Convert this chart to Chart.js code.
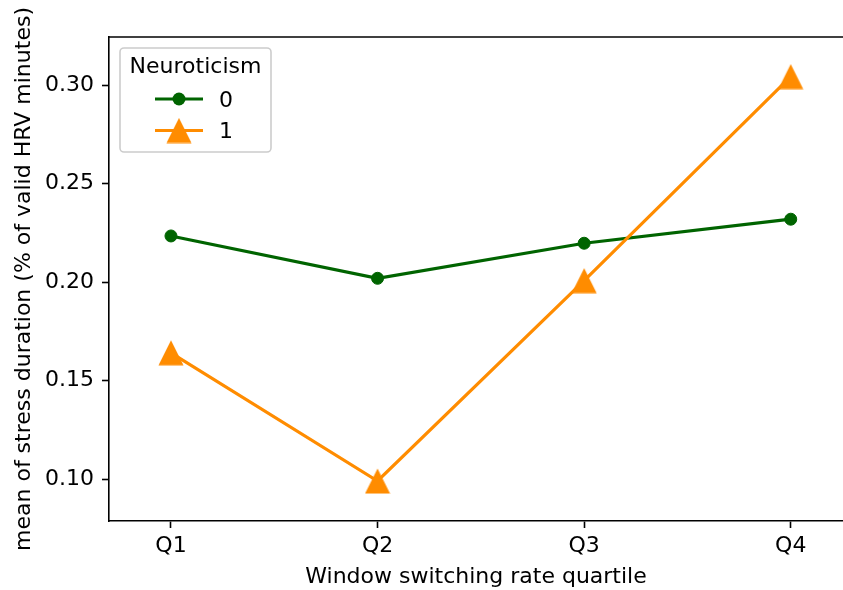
<!DOCTYPE html>
<html>
<head>
<meta charset="utf-8">
<script src="https://cdn.jsdelivr.net/npm/chart.js@4.4.0/dist/chart.umd.min.js"></script>
<style>
  html, body { margin: 0; padding: 0; background: #fff; overflow: hidden; }
</style>
</head>
<body>
<canvas id="myChart" width="843" height="590"></canvas>
<script>
const quartiles = ['Q1', 'Q2', 'Q3', 'Q4'];
const neuroLow = [0.2235, 0.202, 0.2198, 0.232];
const neuroHigh = [0.1642, 0.0991, 0.2008, 0.3044];
const yTicks = [0.10, 0.15, 0.20, 0.25, 0.30];
const seriesNames = ['0', '1'];

const GREEN = '#006400';
const ORANGE = '#ff8c00';

function toPoints(vals) {
  return vals.map((v, i) => ({x: i, y: v}));
}

// matplotlib-like '^' marker (centred at mid height)
function makeTriangle(size, color) {
  const c = document.createElement('canvas');
  c.width = size;
  c.height = size;
  const g = c.getContext('2d');
  g.fillStyle = color;
  g.beginPath();
  g.moveTo(size / 2, 0.5);
  g.lineTo(size - 0.5, size - 0.5);
  g.lineTo(0.5, size - 0.5);
  g.closePath();
  g.fill();
  return c;
}
const triangle = makeTriangle(26, ORANGE);

// legend drawn like matplotlib's boxed legend with a title
const legendBox = {
  id: 'legendBox',
  afterDraw(chart) {
    const ctx = chart.ctx;
    const x0 = 120, y0 = 48, w = 151, h = 104;
    ctx.save();
    ctx.beginPath();
    ctx.roundRect(x0, y0, w, h, 4);
    ctx.fillStyle = 'rgba(255,255,255,0.8)';
    ctx.fill();
    ctx.strokeStyle = '#cccccc';
    ctx.lineWidth = 1.6;
    ctx.stroke();

    ctx.fillStyle = '#000';
    ctx.font = '22px "DejaVu Sans"';
    ctx.textAlign = 'center';
    ctx.textBaseline = 'alphabetic';
    ctx.fillText('Neuroticism', x0 + w / 2, 73);

    const rows = [99, 130.5];
    chart.data.datasets.forEach((ds, i) => {
      const y = rows[i];
      ctx.strokeStyle = ds.borderColor;
      ctx.lineWidth = 3.2;
      ctx.beginPath();
      ctx.moveTo(155, y);
      ctx.lineTo(203, y);
      ctx.stroke();
      if (ds.pointStyle === 'circle') {
        ctx.fillStyle = ds.pointBackgroundColor;
        ctx.beginPath();
        ctx.arc(179, y, 6.5, 0, Math.PI * 2);
        ctx.fill();
      } else {
        ctx.drawImage(ds.pointStyle, 179 - 13, y - 13);
      }
      ctx.fillStyle = '#000';
      ctx.textAlign = 'left';
      ctx.fillText(ds.label, 219, y + 7.5);
    });

    // top spine (the right spine lies just outside the picture)
    const a = chart.chartArea;
    ctx.strokeStyle = '#000';
    ctx.lineWidth = 1.6;
    ctx.beginPath();
    ctx.moveTo(a.left - 0.8, a.top);
    ctx.lineTo(chart.width, a.top);
    ctx.stroke();
    ctx.restore();
  }
};

Chart.defaults.font.family = 'DejaVu Sans';
Chart.defaults.font.size = 22;
Chart.defaults.color = '#000';

const data = {
  datasets: [{
    label: seriesNames[0],
    data: toPoints(neuroLow),
    borderColor: GREEN,
    backgroundColor: GREEN,
    pointBackgroundColor: GREEN,
    pointBorderColor: GREEN,
    pointStyle: 'circle',
    pointRadius: 6,
    pointBorderWidth: 1,
    borderWidth: 3.2,
    order: 1
  }, {
    label: seriesNames[1],
    data: toPoints(neuroHigh),
    borderColor: ORANGE,
    backgroundColor: ORANGE,
    pointBackgroundColor: ORANGE,
    pointStyle: triangle,
    pointRadius: 13,
    borderWidth: 3.2,
    order: 0
  }]
};

const config = {
  type: 'line',
  data: data,
  options: {
    responsive: false,
    animation: false,
    devicePixelRatio: 1,
    layout: { autoPadding: false, padding: { left: 0, top: 37, right: 0, bottom: 0 } },
    plugins: {
      legend: { display: false },
      tooltip: { enabled: false }
    },
    scales: {
      x: {
        type: 'linear',
        min: -0.3,
        max: 3.253,
        afterBuildTicks: (s) => { s.ticks = quartiles.map((q, i) => ({value: i})); },
        afterFit: (s) => { s.height = 69; s.paddingLeft = 0; s.paddingRight = 0; },
        ticks: {
          padding: 5,
          callback: (v) => quartiles[v]
        },
        grid: {
          drawOnChartArea: false,
          drawTicks: true,
          tickLength: 7,
          tickWidth: 1.6,
          tickColor: '#000'
        },
        border: { display: true, color: '#000', width: 1.6 },
        title: {
          display: true,
          text: 'Window switching rate quartile',
          padding: { top: 0, bottom: 0 }
        }
      },
      y: {
        min: 0.0788,
        max: 0.3245,
        afterBuildTicks: (s) => { s.ticks = yTicks.map(v => ({value: v})); },
        afterFit: (s) => { s.width = 109; s.paddingTop = 0; s.paddingBottom = 0; },
        ticks: {
          padding: 8,
          callback: (v) => v.toFixed(2)
        },
        grid: {
          drawOnChartArea: false,
          drawTicks: true,
          tickLength: 7,
          tickWidth: 1.6,
          tickColor: '#000'
        },
        border: { display: true, color: '#000', width: 1.6 },
        title: {
          display: true,
          text: 'mean of stress duration (% of valid HRV minutes)',
          padding: { top: 11, bottom: 0 }
        }
      }
    }
  },
  plugins: [legendBox]
};

const myChart = new Chart(document.getElementById('myChart'), config);
</script>
</body>
</html>
